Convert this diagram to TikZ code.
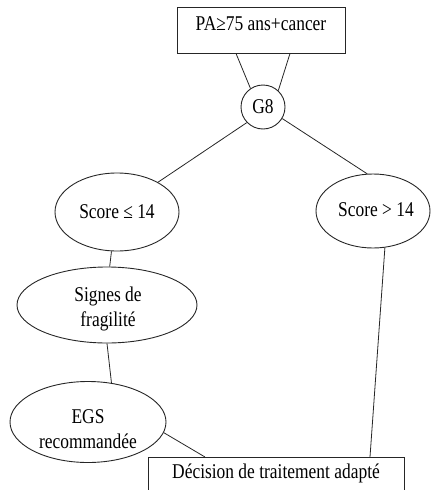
\documentclass[tikz,border=0pt]{standalone}
\usepackage{fontspec}
\setmainfont{Liberation Serif}[FakeStretch=0.83]
\usetikzlibrary{shapes.geometric,calc}
\begin{document}
\begin{tikzpicture}[x=1pt,y=-1pt,
  every node/.style={font=\fontsize{21}{25}\selectfont, inner sep=0pt},
  boxnode/.style={draw=black!85, line width=0.9pt, rectangle},
  ellnode/.style={draw=black!85, line width=0.9pt, ellipse},
  link/.style={draw=black!85, line width=0.8pt},
  txt/.style={align=center}]
\useasboundingbox (0,0) rectangle (431,490);
\clip (0,0) rectangle (431,490);
% shapes
\node[boxnode, minimum width=168pt, minimum height=46pt] (top) at (261,30) {};
\node[txt] (toptext) at (261,24) {PA≥75 ans+cancer};
\node[ellnode, minimum width=44pt, minimum height=44pt] (g8) at (263,107) {G8};
\node[ellnode, minimum width=124pt, minimum height=78pt] (s1) at (117,212) {Score ≤ 14};
\node[ellnode, minimum width=114pt, minimum height=74pt] (s2) at (373,211) {};
\node[txt] (s2text) at (376,210) {Score > 14};
\node[ellnode, minimum width=180pt, minimum height=76pt] (sig) at (107,305) {};
\node[txt] (sigtext) at (108,309) {Signes de\\fragilité};
\node[ellnode, minimum width=156pt, minimum height=81pt] (egs) at (88,422) {};
\node[txt] (egstext) at (88,429) {EGS\\recommandée};
\node[boxnode, minimum width=256pt, minimum height=50pt, anchor=north] (dec) at (276,457) {};
\node[txt] (dectext) at (276,473) {Décision de traitement adapté};
% connectors
\draw[link] ($(top.south)+(-25,0)$) -- (g8.124);
\draw[link] ($(top.south)+(29,0)$) -- (g8.47);
\draw[link] (g8.224) -- (s1.36);
\draw[link] (g8.329) -- (s2.99);
\draw[link] (s1.262) -- (sig.86);
\draw[link] (sig.270) -- (egs.59);
\draw[link] (egs.352) -- ($(dec.north)+(-71,0)$);
\draw[link] (s2.288) -- ($(dec.north)+(94,0)$);
\end{tikzpicture}
\end{document}
